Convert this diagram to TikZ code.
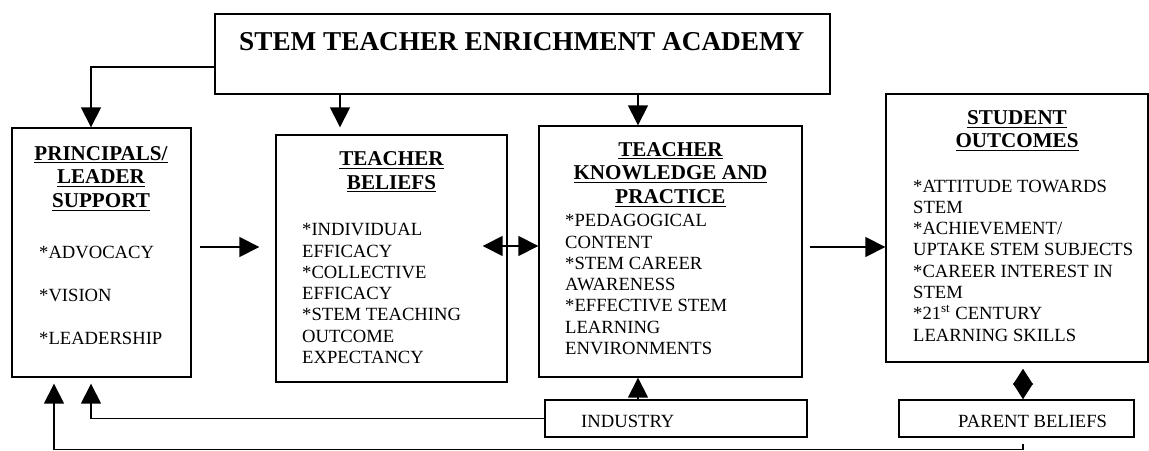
\documentclass[tikz,border=0pt]{standalone}
\usepackage{fontspec}
\setmainfont{Liberation Serif}
\usepackage{tikz}
\usetikzlibrary{arrows.meta, calc}
\tikzstyle{arrow} = [line width=0.9pt,-{Triangle[length=0.4cm,width=0.4cm]}]
\tikzstyle{dblarrow} = [line width=0.9pt,{Triangle[length=0.4cm,width=0.4cm]}-{Triangle[length=0.4cm,width=0.4cm]}]
\tikzstyle{box} = [draw, line width=0.8pt, inner sep=0pt]
\tikzstyle{head} = [anchor=base, align=center, font=\fontsize{12}{13.5}\selectfont\bfseries]
\tikzstyle{body} = [anchor=base west, align=left, font=\fontsize{10.6}{12.1}\selectfont]

\begin{document}
\begin{tikzpicture}
\useasboundingbox (0,0) rectangle (22.98,9.0);

% Academy
\node[box, minimum width=12.3cm, minimum height=1.6cm] (top) at (10.45,7.92) {};
\node[anchor=base west, font=\fontsize{15.5}{17}\selectfont\bfseries] (title) at (4.66,7.98) {STEM TEACHER ENRICHMENT ACADEMY};

% Principals / leader support
\node[box, minimum width=3.58cm, minimum height=4.98cm] (lead) at (2.03,3.95) {};
\node[head] (leadhead) at (2.02,4.85) {\underline{PRINCIPALS/}\\\underline{LEADER}\\\underline{SUPPORT}};
\node[body, font=\fontsize{10.6}{24.4}\selectfont] (leadbody) at (0.66,2.12) {*ADVOCACY\\*VISION\\*LEADERSHIP};

% Teacher beliefs
\node[box, minimum width=4.62cm, minimum height=4.94cm] (bel) at (7.83,3.83) {};
\node[head] (belhead) at (7.83,5.22) {\underline{TEACHER}\\\underline{BELIEFS}};
\node[body] (belbody) at (5.92,1.73) {*INDIVIDUAL\\EFFICACY\\*COLLECTIVE\\EFFICACY\\*STEM TEACHING\\OUTCOME\\EXPECTANCY};

% Teacher knowledge and practice
\node[box, minimum width=5.26cm, minimum height=5.02cm] (tkp) at (13.41,3.97) {};
\node[head] (tkphead) at (13.41,4.93) {\underline{TEACHER}\\\underline{KNOWLEDGE AND}\\\underline{PRACTICE}};
\node[body] (tkpbody) at (11.18,1.91) {*PEDAGOGICAL\\CONTENT\\*STEM CAREER\\AWARENESS\\*EFFECTIVE STEM\\LEARNING\\ENVIRONMENTS};

% Student outcomes
\node[box, minimum width=5.24cm, minimum height=5.36cm] (stud) at (20.34,4.44) {};
\node[head] (studhead) at (20.34,6.04) {\underline{STUDENT}\\\underline{OUTCOMES}};
\node[body] (studbody) at (18.14,2.18) {*ATTITUDE TOWARDS\\STEM\\*ACHIEVEMENT/\\UPTAKE STEM SUBJECTS\\*CAREER INTEREST IN\\STEM\\*21\textsuperscript{st} CENTURY\\LEARNING SKILLS};

% Industry and parents
\node[box, minimum width=5.24cm, minimum height=0.74cm] (ind) at (13.52,0.63) {};
\node[body] (indtext) at (11.5,0.46) {INDUSTRY};
\node[box, minimum width=4.7cm, minimum height=0.74cm] (par) at (20.33,0.63) {};
\node[body] (partext) at (19.04,0.46) {PARENT BELIEFS};

% Arrows from the academy
\draw[arrow] ([yshift=-0.26cm]top.west) -| ([xshift=-0.21cm]lead.north);
\draw[arrow, shorten >=0.14cm] ([xshift=-1.03cm]bel.north |- top.south) -- ([xshift=-1.03cm]bel.north);
\draw[arrow] ([xshift=-0.65cm]tkp.north |- top.south) -- ([xshift=-0.65cm]tkp.north);

% Arrows across
\draw[arrow, shorten <=0.16cm, shorten >=0.32cm] (lead.east |- 0,4.06) -- (bel.west |- 0,4.06);
\draw[dblarrow, shorten <=-0.5cm] (bel.east |- 0,4.08) -- (tkp.west |- 0,4.08);
\draw[arrow, shorten <=0.14cm] (tkp.east |- 0,4.06) -- (stud.west |- 0,4.06);

% Arrows from below
\draw[arrow] ([xshift=-0.76cm]ind.north) -- ([xshift=-0.65cm]tkp.south);
\draw[line width=0.9pt, {Triangle[length=0.32cm,width=0.4cm]}-{Triangle[length=0.32cm,width=0.4cm]}, shorten <=0.12cm] ([xshift=0.12cm]stud.south) -- ([xshift=0.13cm]par.north);
\draw[arrow, shorten >=0.12cm] (ind.west) -| ([xshift=-0.21cm]lead.south);
\draw[arrow, shorten <=0.12cm, shorten >=0.12cm] ([xshift=0.13cm]par.south) -- ++(0,-0.24) -| ([xshift=-0.95cm]lead.south);
\end{tikzpicture}
\end{document}
